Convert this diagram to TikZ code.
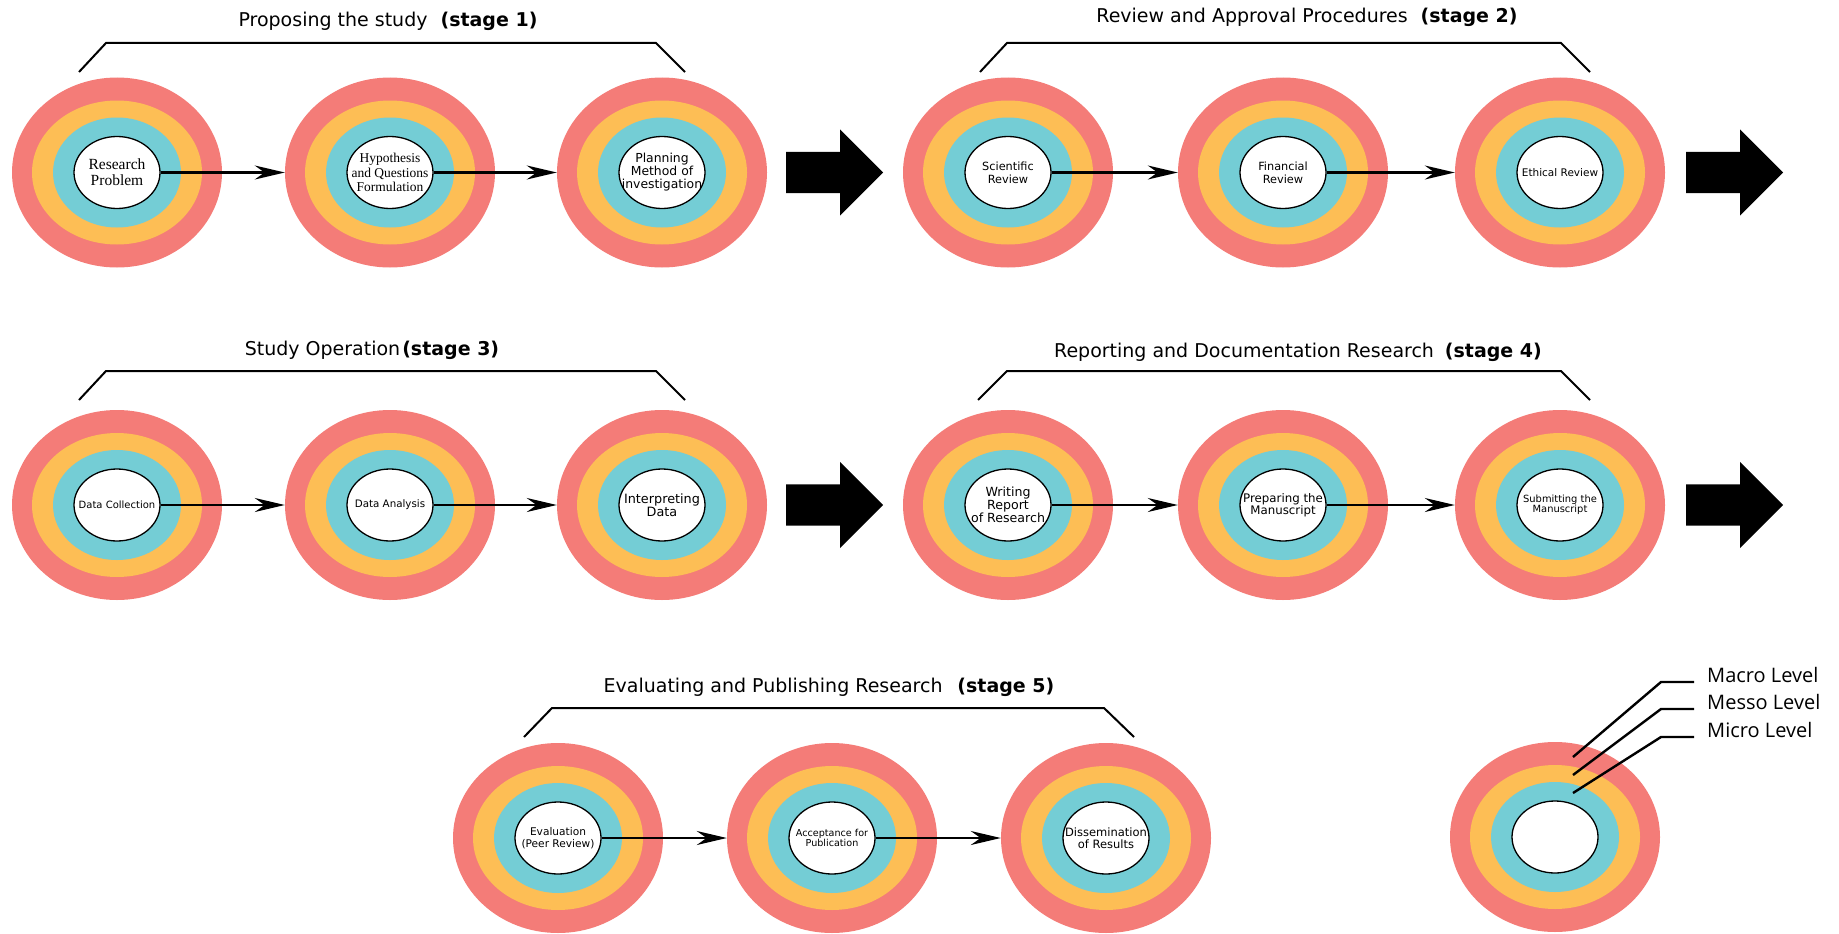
\documentclass[tikz,border=0pt]{standalone}
\usepackage{fontspec}
\setmainfont{DejaVu Sans}
\newfontfamily\serifcore{Liberation Serif}
\newfontfamily\legendfont{Open Sans}
\usetikzlibrary{arrows.meta,shapes.geometric,shapes.arrows}
\definecolor{macrocol}{HTML}{F47C78}
\definecolor{messocol}{HTML}{FDBE55}
\definecolor{microcol}{HTML}{74CDD5}
\tikzset{
  ringnode/.style = {ellipse, align=center, inner sep=0pt, text centered},
  ring_ma/.style = {ringnode, fill=macrocol, minimum width=210pt, minimum height=190pt},
  ring_me/.style = {ringnode, fill=messocol, minimum width=170pt, minimum height=144pt},
  ring_mi/.style = {ringnode, fill=microcol, minimum width=128pt, minimum height=110pt},
  core_w/.style = {ringnode, fill=white, draw=black, line width=1.3pt, minimum width=86pt, minimum height=72pt},
  core_t/.style = {align=center, inner sep=0pt, text centered},
  flow/.style = {-{Stealth[length=30pt,width=14pt]}, line width=2.2pt},
  bigarr/.style = {single arrow, fill=black, inner xsep=0pt, inner ysep=20.5pt, minimum height=97pt,
    single arrow head extend=22.5pt, single arrow tip angle=90, anchor=tail},
  bracket/.style = {line width=2pt},
  title/.style = {anchor=base, inner sep=0pt, font=\fontsize{19}{21}\selectfont},
  lvltext/.style = {anchor=base west, inner sep=0pt, font=\legendfont\fontsize{20}{22}\selectfont},
  leader/.style = {line width=2.4pt},
}
\newcommand{\fs}[2]{\fontsize{#1}{#2}\selectfont}
\newcommand{\stg}[1]{\textbf{(stage #1)}}
% #1 font, #2 position, #3 name, #4 text
\newcommand{\rings}[4][\small]{
  \node [ring_ma] (#3-ma) at (#2) {};
  \node [ring_me] (#3-me) at (#2) {};
  \node [ring_mi] (#3-mi) at (#2) {};
  \node [core_w] (#3) at (#2) {};
  \node [core_t, font=#1] (#3-tx) at (#2) {#4};
}

\begin{document}
\begin{tikzpicture}[x=1pt, y=-1pt]
  \useasboundingbox (0,0) rectangle (1839,934);

  % stage 1
  \node [title] (t1) at (388,27) {Proposing the study\hspace{13pt}\stg{1}};
  \draw [bracket] (79,72) -- (106,43) -- (656,43) -- (685,72);
  \rings[\serifcore\fs{15.5}{16}]{117,172.5}{rp}{Research\\Problem}
  \rings[\serifcore\fs{13.5}{14.5}]{390,172.5}{hq}{Hypothesis\\and Questions\\Formulation}
  \rings[\fs{12.4}{13}]{662,172.5}{pm}{Planning\\Method of\\investigation}
  \draw [flow] (rp.east) -- (hq-ma.west);
  \draw [flow] (hq.east) -- (pm-ma.west);
  \node [bigarr] (a1) at (786,172.5) {};

  % stage 2
  \node [title] (t2) at (1307,23) {Review and Approval Procedures\hspace{13pt}\stg{2}};
  \draw [bracket] (980,72) -- (1007,43) -- (1561,43) -- (1590,72);
  \rings[\fs{11.3}{13}]{1008,172.5}{sr}{Scientific\\Review}
  \rings[\fs{11.3}{13}]{1283,172.5}{fr}{Financial\\Review}
  \rings[\fs{10.5}{12}]{1560,172.5}{er}{Ethical Review}
  \draw [flow] (sr.east) -- (fr-ma.west);
  \draw [flow] (fr.east) -- (er-ma.west);
  \node [bigarr] (a2) at (1686,172.5) {};

  % stage 3
  \node [title] (t3) at (372,355) {Study Operation\hspace{2pt}\stg{3}};
  \draw [bracket] (79,400) -- (106,371) -- (656,371) -- (685,400);
  \rings[\fs{10}{12}]{117,505}{dc}{Data Collection}
  \rings[\fs{10.3}{12}]{390,505}{da}{Data Analysis}
  \rings[\fs{12.8}{13}]{662,505}{id}{Interpreting\\Data}
  \draw [flow] (dc.east) -- (da-ma.west);
  \draw [flow] (da.east) -- (id-ma.west);
  \node [bigarr] (a3) at (786,505) {};

  % stage 4
  \node [title] (t4) at (1298,357) {Reporting and Documentation Research\hspace{11pt}\stg{4}};
  \draw [bracket] (978,400) -- (1007,371) -- (1561,371) -- (1590,400);
  \rings[\fs{12.6}{13}]{1008,505}{wr}{Writing\\Report\\of Research}
  \rings[\fs{11.8}{12}]{1283,505}{pr}{Preparing the\\Manuscript}
  \rings[\fs{9.9}{10.5}]{1560,505}{sm}{Submitting the\\Manuscript}
  \draw [flow] (wr.east) -- (pr-ma.west);
  \draw [flow] (pr.east) -- (sm-ma.west);
  \node [bigarr] (a4) at (1686,505) {};

  % stage 5
  \node [title] (t5) at (829,692) {Evaluating and Publishing Research\hspace{15pt}\stg{5}};
  \draw [bracket] (524,737) -- (552,708) -- (1104,708) -- (1134,737);
  \rings[\fs{10.6}{12.3}]{558,838}{ev}{Evaluation\\(Peer Review)}
  \rings[\fs{9.6}{10.5}]{832,838}{ap}{Acceptance for\\Publication}
  \rings[\fs{11.5}{12.3}]{1106,838}{dr}{Dissemination\\of Results}
  \draw [flow] (ev.east) -- (ap-ma.west);
  \draw [flow] (ap.east) -- (dr-ma.west);

  % legend
  \rings{1555,837}{lg}{}
  \node [lvltext] (mac) at (1707,682) {Macro Level};
  \node [lvltext] (mes) at (1707,709) {Messo Level};
  \node [lvltext] (mic) at (1707,737) {Micro Level};
  \coordinate (pma) at (1573,757);
  \coordinate (pme) at (1573,775);
  \coordinate (pmi) at (1573,793);
  \draw [leader] (pma) -- (1661,682) -- ([xshift=-13pt]mac.base west);
  \draw [leader] (pme) -- (1661,709) -- ([xshift=-13pt]mes.base west);
  \draw [leader] (pmi) -- (1661,737) -- ([xshift=-13pt]mic.base west);
\end{tikzpicture}
\end{document}
